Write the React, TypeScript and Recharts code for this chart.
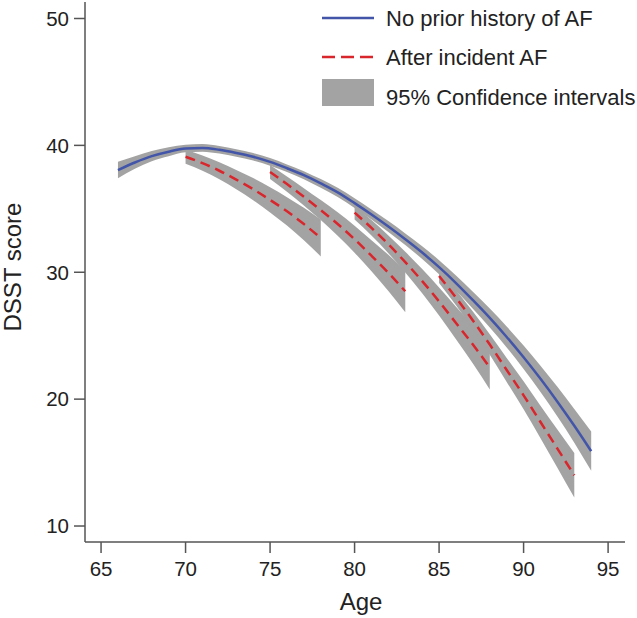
import { ComposedChart, Line, Area, XAxis, YAxis, Legend, Label } from 'recharts'

const FONT = '"Liberation Sans", Arial, Helvetica, sans-serif'
const BLUE = '#4255a8'
const RED = '#d8262c'
const GREY = '#a3a3a3'
const AXIS = '#555555'
const TEXT = '#222222'

const X_TICKS = [65, 70, 75, 80, 85, 90, 95]
const Y_TICKS = [10, 20, 30, 40, 50]

// no prior history of AF
const NO_AF_AGES = [66, 67, 68, 69, 70, 71, 72, 73, 74, 75, 76, 77, 78, 79, 80, 81, 82, 83, 84, 85, 86, 87, 88, 89, 90, 91, 92, 93, 94]
const NO_AF_SCORE = [38.05, 38.65, 39.15, 39.5, 39.75, 39.8, 39.65, 39.4, 39.1, 38.7, 38.2, 37.65, 37.0, 36.3, 35.45, 34.55, 33.6, 32.6, 31.55, 30.4, 29.15, 27.8, 26.4, 24.9, 23.3, 21.6, 19.8, 17.9, 15.9]
const NO_AF_HALF_CI = [0.65, 0.5, 0.4, 0.35, 0.3, 0.3, 0.3, 0.3, 0.3, 0.3, 0.3, 0.32, 0.34, 0.36, 0.38, 0.4, 0.43, 0.46, 0.5, 0.55, 0.6, 0.67, 0.75, 0.83, 0.92, 1.03, 1.17, 1.33, 1.55]

// after incident AF, one segment per onset age
const AF70_AGES = [70, 71, 72, 73, 74, 75, 76, 77, 78]
const AF70_SCORE = [39.1, 38.6, 38.0, 37.3, 36.55, 35.7, 34.8, 33.8, 32.7]
const AF70_HALF_CI = [0.55, 0.6, 0.67, 0.76, 0.87, 0.99, 1.12, 1.28, 1.45]

const AF75_AGES = [75, 76, 77, 78, 79, 80, 81, 82, 83]
const AF75_SCORE = [37.9, 36.95, 35.95, 34.9, 33.8, 32.6, 31.3, 29.95, 28.5]
const AF75_HALF_CI = [0.55, 0.6, 0.68, 0.79, 0.92, 1.06, 1.22, 1.42, 1.65]

const AF80_AGES = [80, 81, 82, 83, 84, 85, 86, 87, 88]
const AF80_SCORE = [34.7, 33.5, 32.2, 30.8, 29.3, 27.7, 26.0, 24.3, 22.5]
const AF80_HALF_CI = [0.55, 0.61, 0.7, 0.81, 0.95, 1.1, 1.28, 1.5, 1.75]

const AF85_AGES = [85, 86, 87, 88, 89, 90, 91, 92, 93]
const AF85_SCORE = [29.7, 28.0, 26.2, 24.3, 22.3, 20.3, 18.2, 16.1, 14.0]
const AF85_HALF_CI = [0.55, 0.61, 0.7, 0.81, 0.95, 1.1, 1.28, 1.5, 1.75]

const build = (ages: number[], score: number[], half: number[]) =>
  ages.map((age, i) => ({
    age,
    score: score[i],
    band: [score[i] - half[i], score[i] + half[i]],
  }))

const noAf = build(NO_AF_AGES, NO_AF_SCORE, NO_AF_HALF_CI)
const afSegments = [
  build(AF70_AGES, AF70_SCORE, AF70_HALF_CI),
  build(AF75_AGES, AF75_SCORE, AF75_HALF_CI),
  build(AF80_AGES, AF80_SCORE, AF80_HALF_CI),
  build(AF85_AGES, AF85_SCORE, AF85_HALF_CI),
]

function LegendBox() {
  const textStyle = { fontFamily: FONT, fontSize: 22, fill: TEXT }
  return (
    <svg width={637} height={115}>
      <line x1={322} x2={374} y1={18} y2={18} stroke={BLUE} strokeWidth={2.5} />
      <text x={386} y={26} {...textStyle}>No prior history of AF</text>
      <line x1={322} x2={374} y1={57} y2={57} stroke={RED} strokeWidth={2.5} strokeDasharray="13 6" />
      <text x={386} y={65} {...textStyle}>After incident AF</text>
      <rect x={322} y={79} width={52} height={27} fill={GREY} />
      <text x={386} y={105} {...textStyle}>95% Confidence intervals</text>
    </svg>
  )
}

export default function App() {
  const tick = { fontFamily: FONT, fontSize: 20.5, fill: TEXT }
  return (
    <div style={{ position: 'absolute', left: 0, top: 0, background: '#fff' }}>
      <ComposedChart width={637} height={618} margin={{ top: 2, right: 12, bottom: 0, left: 0 }}>
        <XAxis
          type="number"
          dataKey="age"
          domain={[64.05, 96]}
          ticks={X_TICKS}
          allowDataOverflow
          height={76}
          tick={tick}
          tickSize={11}
          tickMargin={8}
          stroke={AXIS}
          strokeWidth={1.5}
        >
          <Label
            content={() => (
              <text x={361} y={610} textAnchor="middle" fontFamily={FONT} fontSize={24} fill={TEXT}>
                Age
              </text>
            )}
          />
        </XAxis>
        <YAxis
          type="number"
          domain={[8.74, 51.3]}
          ticks={Y_TICKS}
          allowDataOverflow
          width={85}
          tick={tick}
          tickSize={11}
          tickMargin={5}
          stroke={AXIS}
          strokeWidth={1.5}
        >
          <Label
            content={() => (
              <text
                x={21}
                y={267}
                transform="rotate(-90, 21, 267)"
                textAnchor="middle"
                fontFamily={FONT}
                fontSize={24}
                fill={TEXT}
              >
                DSST score
              </text>
            )}
          />
        </YAxis>

        <Area
          data={noAf}
          dataKey="band"
          type="monotone"
          stroke="none"
          fill={GREY}
          fillOpacity={1}
          isAnimationActive={false}
        />
        {afSegments.map((seg, i) => (
          <Area
            key={`band-${i}`}
            data={seg}
            dataKey="band"
            type="monotone"
            stroke="none"
            fill={GREY}
            fillOpacity={1}
            isAnimationActive={false}
          />
        ))}
        {afSegments.map((seg, i) => (
          <Line
            key={`af-${i}`}
            data={seg}
            dataKey="score"
            type="monotone"
            stroke={RED}
            strokeWidth={2.5}
            strokeDasharray="10 6"
            dot={false}
            isAnimationActive={false}
          />
        ))}
        <Line
          data={noAf}
          dataKey="score"
          type="monotone"
          stroke={BLUE}
          strokeWidth={2.5}
          dot={false}
          isAnimationActive={false}
        />

        <Legend
          layout="horizontal"
          verticalAlign="middle"
          align="center"
          wrapperStyle={{ left: 0, top: 0, width: 637, height: 115 }}
          content={() => <LegendBox />}
        />
      </ComposedChart>
    </div>
  )
}
